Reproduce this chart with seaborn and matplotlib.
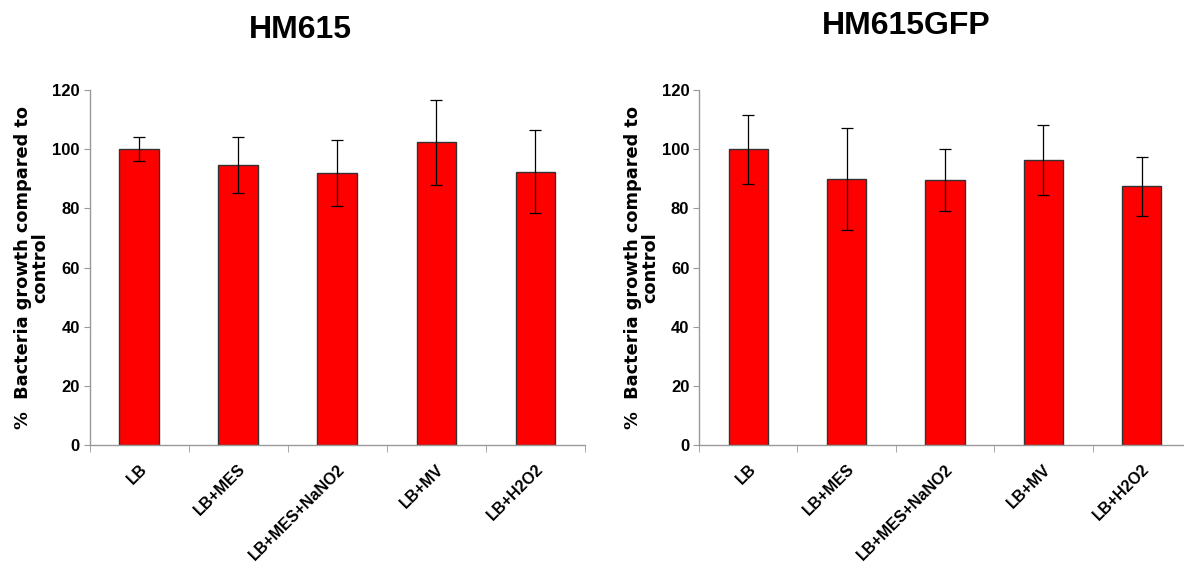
import numpy as np
import pandas as pd
import matplotlib
matplotlib.use('Agg')
import matplotlib.pyplot as plt
import seaborn as sns

# data
conditions = ['LB', 'LB+MES', 'LB+MES+NaNO2', 'LB+MV', 'LB+H2O2']
hm615_mean = [100.0, 94.6, 92.0, 102.3, 92.4]
hm615_err = [4.1, 9.4, 11.2, 14.4, 14.1]
gfp_mean = [100.0, 90.0, 89.7, 96.4, 87.4]
gfp_err = [11.7, 17.3, 10.5, 11.9, 10.1]
titles = ['HM615', 'HM615GFP']
yticks = [0, 20, 40, 60, 80, 100, 120]

sns.set_style('white')
plt.rcParams['font.family'] = ['Liberation Sans Narrow', 'Liberation Sans', 'DejaVu Sans']
plt.rcParams['text.color'] = 'black'
plt.rcParams['xtick.color'] = 'black'
plt.rcParams['ytick.color'] = 'black'
plt.rcParams['axes.labelcolor'] = 'black'

fig = plt.figure(figsize=(11.84, 5.72), dpi=100)
ax1 = fig.add_axes([0.0756, 0.222, 0.4185, 0.6206])
ax2 = fig.add_axes([0.5904, 0.222, 0.4155, 0.6206])

panels = [(ax1, hm615_mean, hm615_err), (ax2, gfp_mean, gfp_err)]

for ax, mean, err in panels:
    df = pd.DataFrame({'cond': conditions, 'val': mean})
    sns.barplot(data=df, x='cond', y='val', ax=ax, color='#ff0000',
                width=0.4, edgecolor='#333333', linewidth=1, saturation=1)
    ax.errorbar(np.arange(len(conditions)), mean, yerr=err, fmt='none',
                ecolor='black', elinewidth=0.9, capsize=4, capthick=0.9)
    ax.set_xlim(-0.5, 4.5)
    ax.set_ylim(0, 120)
    ax.set_yticks(yticks)
    ax.set_yticklabels([str(v) for v in yticks], fontsize=12, fontweight='bold')
    ax.set_xticks(range(len(conditions)))
    ax.set_xticklabels(conditions, rotation=45, ha='right', rotation_mode='anchor',
                       fontsize=11.5, fontweight='bold',
                       family=['Liberation Sans', 'DejaVu Sans'])
    ax.set_xticks(np.arange(-0.5, 5.0, 1.0), minor=True)
    ax.tick_params(axis='x', which='major', length=0, pad=12)
    ax.tick_params(axis='x', which='minor', length=5, color='#999999', direction='out', bottom=True)
    ax.tick_params(axis='y', length=4, color='#999999', direction='out', left=True, pad=3)
    ax.set_xlabel('')
    ax.set_ylabel('%  Bacteria growth compared to\ncontrol', fontsize=12.8, fontweight='bold',
                  family=['DejaVu Sans'], linespacing=0.95, labelpad=2)
    for s in ['top', 'right']:
        ax.spines[s].set_visible(False)
    for s in ['left', 'bottom']:
        ax.spines[s].set_color('#999999')
        ax.spines[s].set_linewidth(1)

fig.text(0.254, 0.948, titles[0], ha='center', va='center', fontsize=23, fontweight='bold')
fig.text(0.765, 0.954, titles[1], ha='center', va='center', fontsize=23, fontweight='bold')

plt.savefig('out.png', dpi=100)
